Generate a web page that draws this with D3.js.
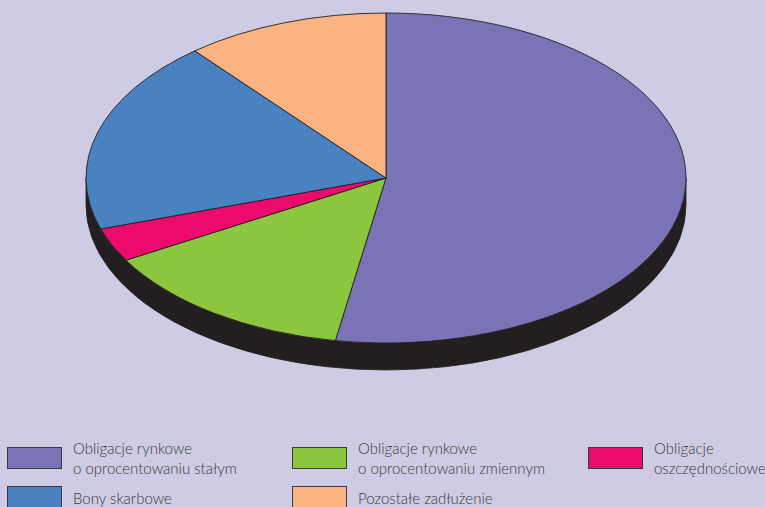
<!DOCTYPE html>
<html>
<head>
<meta charset="utf-8">
<script src="https://cdn.jsdelivr.net/npm/d3@7"></script>
<style>
  html, body { margin: 0; padding: 0; background: #CECCE4; }
  svg { display: block; }
  .legend text { font-family: Lato, "Open Sans", sans-serif; font-weight: 300; font-size: 15px; fill: #3a3a3a; }
</style>
</head>
<body>
<script>
// Structure of debt (percent shares)
const categories = [
  "Obligacje rynkowe o oprocentowaniu stałym",
  "Obligacje rynkowe o oprocentowaniu zmiennym",
  "Obligacje oszczędnościowe",
  "Bony skarbowe",
  "Pozostałe zadłużenie"
];
const values = [52.7, 14.0, 3.3, 19.0, 11.0];
const colors = ["#7A73B5", "#8CC63F", "#EC0B6D", "#4A81C1", "#FBB382"];

// Legend entries: label lines
const legendLines = [
  ["Obligacje rynkowe", "o oprocentowaniu stałym"],
  ["Obligacje rynkowe", "o oprocentowaniu zmiennym"],
  ["Obligacje", "oszczędnościowe"],
  ["Bony skarbowe"],
  ["Pozostałe zadłużenie"]
];

const W = 765, H = 507;
const cx = 386, cy = 178, rx = 300, ry = 165, depth = 27;

const svg = d3.select("body").append("svg").attr("width", W).attr("height", H);
svg.append("rect").attr("width", W).attr("height", H).attr("fill", "#CECCE4");

// Side wall of the disc
const sidePath = `M${cx - rx},${cy} L${cx - rx},${cy + depth} A${rx},${ry} 0 0 0 ${cx + rx},${cy + depth} L${cx + rx},${cy} A${rx},${ry} 0 0 1 ${cx - rx},${cy} Z`;
svg.append("path").attr("d", sidePath).attr("fill", "#231F20")
  .attr("stroke", "#231F20").attr("stroke-width", 0.8);

// Top face: circular pie squashed into an ellipse
const pieData = d3.pie().sort(null).value(d => d)(values);
const arc = d3.arc().innerRadius(0).outerRadius(rx);
const face = svg.append("g").attr("transform", `translate(${cx},${cy}) scale(1,${ry / rx})`);
face.selectAll("path").data(pieData).join("path")
  .attr("d", arc)
  .attr("fill", (d, i) => colors[i])
  .attr("stroke", "#231F20")
  .attr("stroke-width", 0.9)
  .attr("vector-effect", "non-scaling-stroke")
  .attr("stroke-linejoin", "round");

// Legend: swatch rows and text baselines per row
const colX = [7, 292, 588];
const rowY = [447, 486];
const textBase = [[454, 474], [504]];
const slots = [[0, 0], [1, 0], [2, 0], [0, 1], [1, 1]];
const legend = svg.append("g").attr("class", "legend");
categories.forEach((c, i) => {
  const [col, row] = slots[i];
  legend.append("rect")
    .attr("x", colX[col] + 0.5).attr("y", rowY[row] + 0.5)
    .attr("width", 54).attr("height", 21)
    .attr("fill", colors[i]).attr("stroke", "#3a3a3a").attr("stroke-width", 1);
  legendLines[i].forEach((t, j) => {
    legend.append("text").attr("x", colX[col] + 66).attr("y", textBase[row][j]).text(t);
  });
});
</script>
</body>
</html>
